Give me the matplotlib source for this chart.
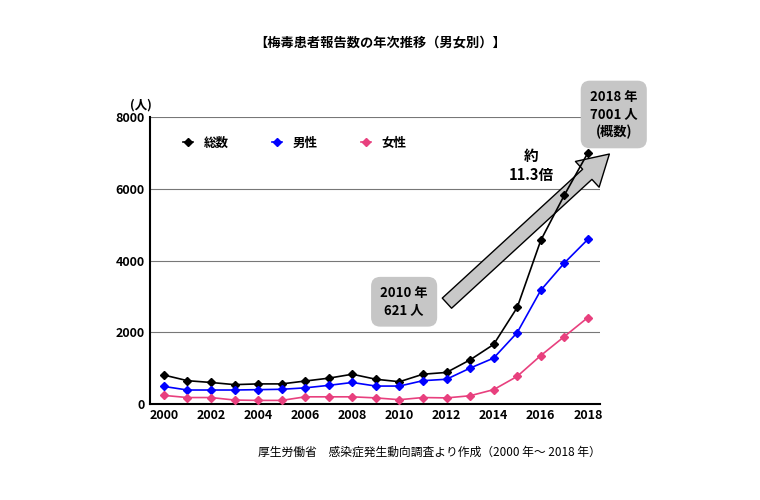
import matplotlib
matplotlib.use("Agg")
import matplotlib.pyplot as plt

plt.rcParams['font.family'] = ['Noto Sans CJK JP', 'DejaVu Sans']

years = list(range(2000, 2019))
total = [808, 650, 600, 540, 560, 560, 640, 720, 830, 690, 621, 830, 880, 1230, 1660, 2690, 4560, 5820, 7001]
male = [490, 390, 390, 390, 400, 410, 450, 520, 600, 500, 500, 650, 690, 1000, 1280, 1990, 3170, 3930, 4590]
female = [240, 180, 180, 110, 100, 100, 200, 200, 200, 170, 120, 180, 170, 230, 400, 770, 1350, 1880, 2410]
xticks = list(range(2000, 2019, 2))
yticks = [0, 2000, 4000, 6000, 8000]

fig = plt.figure(figsize=(7.6, 5), dpi=100)
ax = fig.add_axes([0.197, 0.192, 0.592, 0.574])
ax.set_xlim(1999.4, 2018.5)
ax.set_ylim(0, 8000)
for y in yticks[1:]:
    ax.axhline(y, color='#777777', lw=0.8, zorder=0)

ax.plot(years, total, color='black', marker='D', ms=4, lw=1.2, label='総数', zorder=4)
ax.plot(years, male, color='blue', marker='D', ms=4, lw=1.2, label='男性', zorder=4)
ax.plot(years, female, color='#e8407e', marker='D', ms=4, lw=1.2, label='女性', zorder=4)

ax.set_xticks(xticks)
ax.set_yticks(yticks)
ax.tick_params(length=0, labelsize=9)
for lab in ax.get_xticklabels() + ax.get_yticklabels():
    lab.set_fontweight('bold')
for s in ['top', 'right']:
    ax.spines[s].set_visible(False)
ax.spines['left'].set_linewidth(1.5)
ax.spines['bottom'].set_linewidth(1.5)

leg = ax.legend(loc='upper left', bbox_to_anchor=(0.05, 0.97), ncol=3, frameon=False,
                handlelength=0.8, columnspacing=3.5, prop={'weight': 'bold', 'size': 9})

ax.text(-0.02, 1.03, '(人)', transform=ax.transAxes, fontsize=9, fontweight='bold', ha='center')

ax.annotate('', xy=(2019.0, 7020), xytext=(2011.93, 2758), annotation_clip=False, zorder=3,
            arrowprops=dict(arrowstyle='simple,head_length=1.2,head_width=1.4,tail_width=0.55',
                            mutation_scale=18, fc='#c8c8c8', ec='black', lw=1))

bbox = dict(boxstyle='round,pad=0.7', fc='#c6c6c6', ec='none')
ax.text(2010.2, 2850, '2010 年\n621 人', ha='center', va='center', fontsize=9.5,
        fontweight='bold', bbox=bbox, linespacing=1.3)
ax.text(2019.1, 8070, '2018 年\n7001 人\n(概数)', ha='center', va='center', fontsize=9.5,
        fontweight='bold', bbox=bbox, linespacing=1.3, clip_on=False)
ax.text(2015.6, 6650, '約\n11.3倍', ha='center', va='center', fontsize=10.5,
        fontweight='bold', linespacing=1.2)

fig.text(0.5, 0.915, '【梅毒患者報告数の年次推移（男女別）】', ha='center', va='center',
         fontsize=9.5, fontweight='bold')
fig.text(0.565, 0.095, '厚生労働省　感染症発生動向調査より作成（2000 年～ 2018 年）', ha='center',
         va='center', fontsize=8.5)

fig.savefig('out.png', dpi=100)
